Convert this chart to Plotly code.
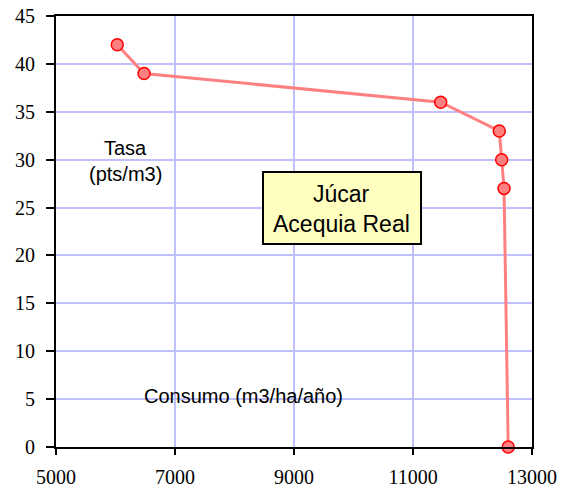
import plotly.graph_objects as go

consumo = [6030, 6480, 11465, 12450, 12490, 12530, 12600]
tasa = [42, 39, 36, 33, 30, 27, 0]
x_ticks = [5000, 7000, 9000, 11000, 13000]
y_ticks = [0, 5, 10, 15, 20, 25, 30, 35, 40, 45]

fig = go.Figure()
fig.add_trace(go.Scatter(
    x=consumo, y=tasa, mode="lines+markers",
    line=dict(color="#FF8080", width=3),
    marker=dict(size=12, color="#FF8080", line=dict(color="#FF0000", width=1.5)),
    showlegend=False, cliponaxis=False,
))

tick_font = dict(family="Liberation Serif, Times New Roman, serif", size=20, color="black")
fig.update_xaxes(
    range=[5000, 13000], tickvals=x_ticks, ticktext=[str(v) for v in x_ticks],
    showgrid=True, gridcolor="#C0C0FF", gridwidth=1.5,
    showline=True, linecolor="black", linewidth=2, mirror=True,
    ticks="outside", ticklen=6, tickcolor="black", tickwidth=1.5,
    tickfont=tick_font, zeroline=False, automargin=False, ticklabelstandoff=5,
)
fig.update_yaxes(
    range=[0, 45], tickvals=y_ticks,
    showgrid=True, gridcolor="#C0C0FF", gridwidth=1.5,
    showline=True, linecolor="black", linewidth=2, mirror=True,
    ticks="outside", ticklen=8, tickcolor="black", tickwidth=1.5,
    tickfont=tick_font, zeroline=False, automargin=False, ticklabelstandoff=7,
)

ann_font = dict(family="Liberation Sans", size=20, color="black")
fig.add_annotation(x=6176, y=31.2, text="Tasa", showarrow=False, font=ann_font)
fig.add_annotation(x=6176, y=28.5, text="(pts/m3)", showarrow=False, font=ann_font)
fig.add_annotation(x=8143, y=5.3, text="Consumo (m3/ha/año)", showarrow=False, font=ann_font)

fig.add_shape(type="rect", x0=8479, x1=11135, y0=21.2, y1=28.7,
              fillcolor="#FFFFC0", line=dict(color="black", width=2), layer="above")
box_font = dict(family="Liberation Sans", size=23, color="black")
fig.add_annotation(x=9790, y=26.4, text="Júcar", showarrow=False, font=box_font)
fig.add_annotation(x=9790, y=23.3, text="Acequia Real", showarrow=False, font=box_font)

fig.update_layout(
    width=571, height=493,
    margin=dict(l=56, r=39, t=16, b=46),
    plot_bgcolor="white", paper_bgcolor="white",
)
fig.write_html("out.html")
